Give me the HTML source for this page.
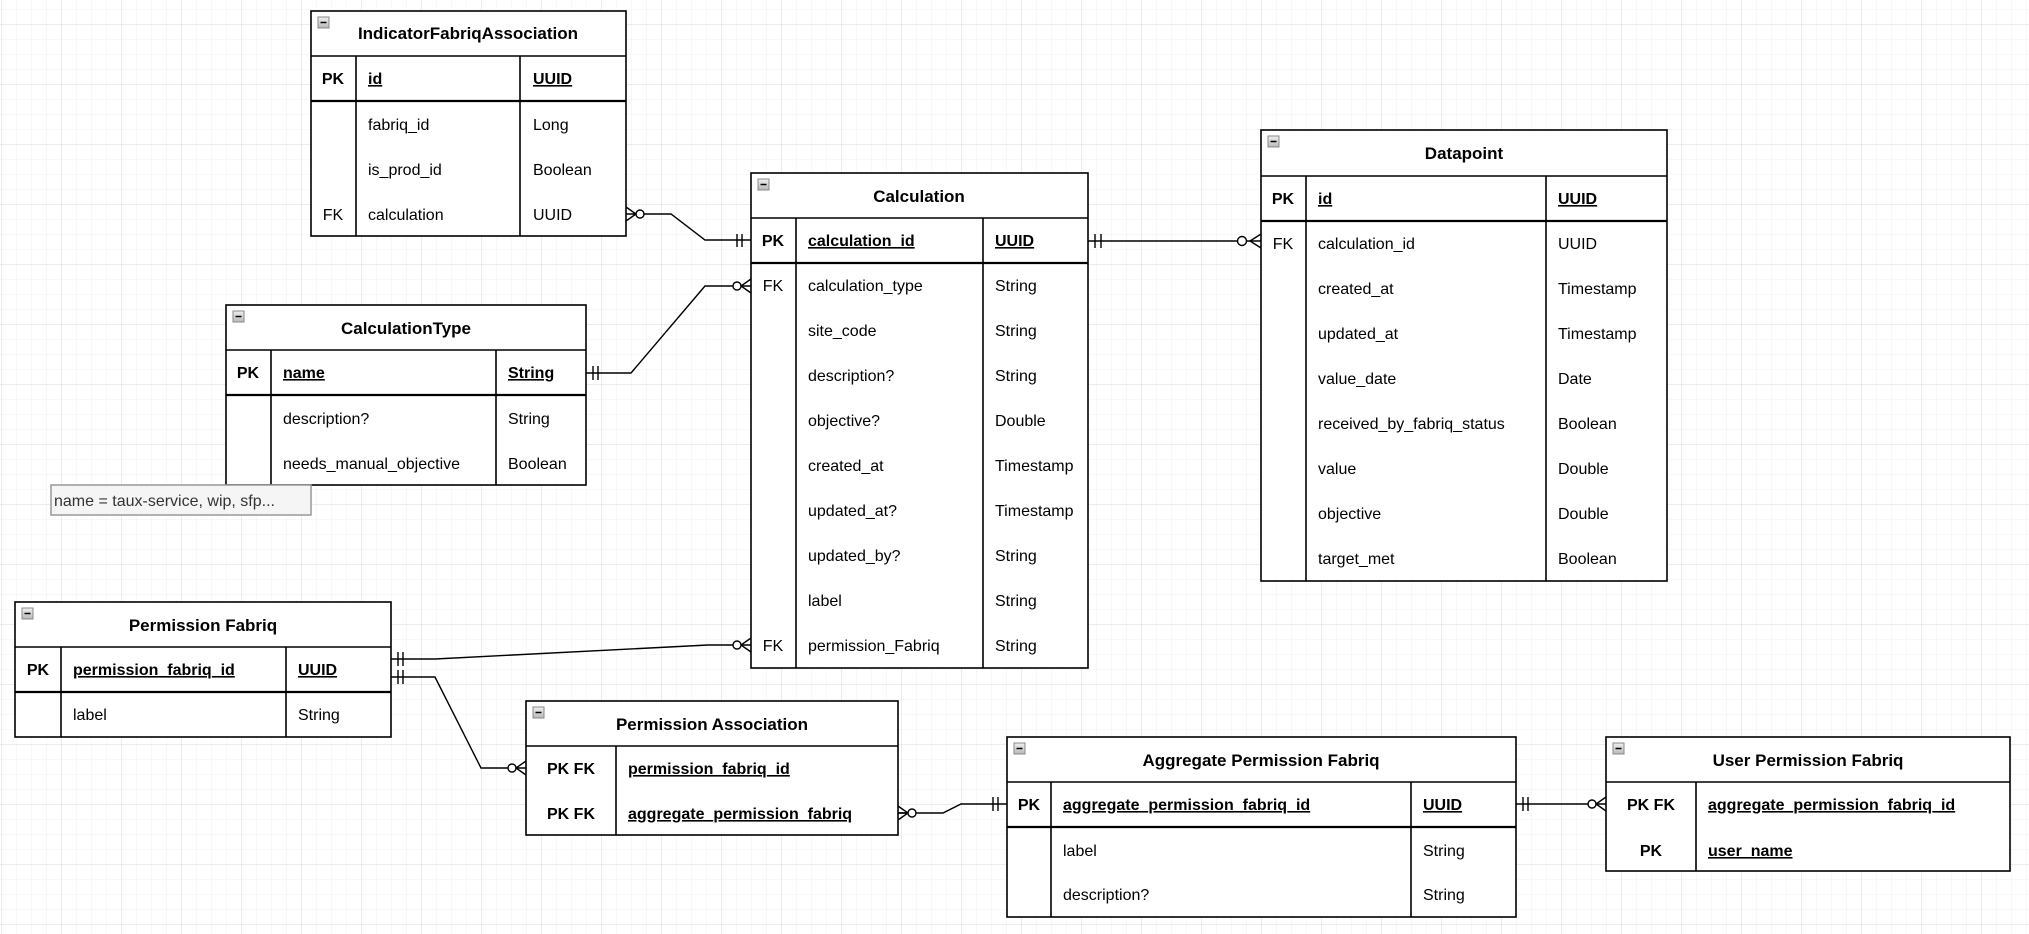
<!DOCTYPE html>
<html><head><meta charset="utf-8"><style>
html,body{margin:0;padding:0;background:#fff;}
svg{display:block;}
text{font-family:"Liberation Sans",Arial,sans-serif;font-size:16px;fill:#000;}
.h{font-weight:bold;font-size:17px;text-anchor:middle;}
.k{font-weight:bold;}
.c{text-anchor:middle;}
.u{text-decoration:underline;font-weight:bold;}
.b{fill:#fff;stroke:#000;stroke-width:1.6;}
.l{stroke:#000;stroke-width:1.6;fill:none;}
.t{stroke:#000;stroke-width:2.2;fill:none;}
.w{stroke:#000;stroke-width:1.4;fill:none;}
.ci{stroke:#000;stroke-width:1.4;fill:#fff;}
</style></head><body>
<svg width="2029" height="934" viewBox="0 0 2029 934" xmlns="http://www.w3.org/2000/svg">
<defs>
<pattern id="mi" width="15" height="15" patternUnits="userSpaceOnUse" x="1" y="9"><path d="M0 0H15M0 0V15" stroke="#f0f0f0" stroke-width="1" fill="none"/></pattern>
<pattern id="ma" width="60" height="60" patternUnits="userSpaceOnUse" x="1" y="24"><path d="M0 0H60M0 0V60" stroke="#dadada" stroke-width="1" fill="none"/></pattern>
<linearGradient id="ig" x1="0" y1="0" x2="0" y2="1"><stop offset="0" stop-color="#f0f0f0"/><stop offset="1" stop-color="#b8b8b8"/></linearGradient>
<g id="mn"><rect x="0" y="0" width="11" height="11" fill="url(#ig)" stroke="#888" stroke-width="1"/><line x1="2.5" y1="5.5" x2="8.5" y2="5.5" stroke="#000" stroke-width="1.5"/></g>
</defs>
<rect width="2029" height="934" fill="#fff"/>
<rect width="2029" height="934" fill="url(#mi)"/>
<rect width="2029" height="934" fill="url(#ma)"/>

<!-- IndicatorFabriqAssociation -->
<rect class="b" x="311" y="11" width="315" height="225"/>
<use href="#mn" x="318" y="17"/>
<text class="h" x="468" y="39">IndicatorFabriqAssociation</text>
<line class="l" x1="311" y1="56" x2="626" y2="56"/>
<line class="t" x1="311" y1="101" x2="626" y2="101"/>
<line class="l" x1="356" y1="56" x2="356" y2="236"/>
<line class="l" x1="520" y1="56" x2="520" y2="236"/>
<text class="k c" x="333" y="84">PK</text><text class="u" x="368" y="84">id</text><text class="u" x="533" y="84">UUID</text>
<text x="368" y="130">fabriq_id</text><text x="533" y="130">Long</text>
<text x="368" y="175">is_prod_id</text><text x="533" y="175">Boolean</text>
<text class="c" x="333" y="220">FK</text><text x="368" y="220">calculation</text><text x="533" y="220">UUID</text>

<!-- Calculation -->
<rect class="b" x="751" y="173" width="337" height="495"/>
<use href="#mn" x="758" y="179"/>
<text class="h" x="919" y="202">Calculation</text>
<line class="l" x1="751" y1="218" x2="1088" y2="218"/>
<line class="t" x1="751" y1="263" x2="1088" y2="263"/>
<line class="l" x1="796" y1="218" x2="796" y2="668"/>
<line class="l" x1="983" y1="218" x2="983" y2="668"/>
<text class="k c" x="773" y="246">PK</text><text class="u" x="808" y="246">calculation_id</text><text class="u" x="995" y="246">UUID</text>
<text class="c" x="773" y="291">FK</text><text x="808" y="291">calculation_type</text><text x="995" y="291">String</text>
<text x="808" y="336">site_code</text><text x="995" y="336">String</text>
<text x="808" y="381">description?</text><text x="995" y="381">String</text>
<text x="808" y="426">objective?</text><text x="995" y="426">Double</text>
<text x="808" y="471">created_at</text><text x="995" y="471">Timestamp</text>
<text x="808" y="516">updated_at?</text><text x="995" y="516">Timestamp</text>
<text x="808" y="561">updated_by?</text><text x="995" y="561">String</text>
<text x="808" y="606">label</text><text x="995" y="606">String</text>
<text class="c" x="773" y="651">FK</text><text x="808" y="651">permission_Fabriq</text><text x="995" y="651">String</text>

<!-- CalculationType -->
<rect class="b" x="226" y="305" width="360" height="180"/>
<use href="#mn" x="233" y="311"/>
<text class="h" x="406" y="334">CalculationType</text>
<line class="l" x1="226" y1="350" x2="586" y2="350"/>
<line class="t" x1="226" y1="395" x2="586" y2="395"/>
<line class="l" x1="271" y1="350" x2="271" y2="485"/>
<line class="l" x1="496" y1="350" x2="496" y2="485"/>
<text class="k c" x="248" y="378">PK</text><text class="u" x="283" y="378">name</text><text class="u" x="508" y="378">String</text>
<text x="283" y="424">description?</text><text x="508" y="424">String</text>
<text x="283" y="469">needs_manual_objective</text><text x="508" y="469">Boolean</text>

<!-- note -->
<rect x="51" y="485" width="260" height="30" fill="#f5f5f5" stroke="#999" stroke-width="1.5"/>
<text x="54" y="506" style="fill:#333">name = taux-service, wip, sfp...</text>

<!-- Permission Fabriq -->
<rect class="b" x="15" y="602" width="376" height="135"/>
<use href="#mn" x="22" y="608"/>
<text class="h" x="203" y="631">Permission Fabriq</text>
<line class="l" x1="15" y1="647" x2="391" y2="647"/>
<line class="t" x1="15" y1="692" x2="391" y2="692"/>
<line class="l" x1="61" y1="647" x2="61" y2="737"/>
<line class="l" x1="286" y1="647" x2="286" y2="737"/>
<text class="k c" x="38" y="675">PK</text><text class="u" x="73" y="675">permission_fabriq_id</text><text class="u" x="298" y="675">UUID</text>
<text x="73" y="720">label</text><text x="298" y="720">String</text>

<!-- Datapoint -->
<rect class="b" x="1261" y="130" width="406" height="451"/>
<use href="#mn" x="1268" y="136"/>
<text class="h" x="1464" y="159">Datapoint</text>
<line class="l" x1="1261" y1="176" x2="1667" y2="176"/>
<line class="t" x1="1261" y1="221" x2="1667" y2="221"/>
<line class="l" x1="1306" y1="176" x2="1306" y2="581"/>
<line class="l" x1="1546" y1="176" x2="1546" y2="581"/>
<text class="k c" x="1283" y="204">PK</text><text class="u" x="1318" y="204">id</text><text class="u" x="1558" y="204">UUID</text>
<text class="c" x="1283" y="249">FK</text><text x="1318" y="249">calculation_id</text><text x="1558" y="249">UUID</text>
<text x="1318" y="294">created_at</text><text x="1558" y="294">Timestamp</text>
<text x="1318" y="339">updated_at</text><text x="1558" y="339">Timestamp</text>
<text x="1318" y="384">value_date</text><text x="1558" y="384">Date</text>
<text x="1318" y="429">received_by_fabriq_status</text><text x="1558" y="429">Boolean</text>
<text x="1318" y="474">value</text><text x="1558" y="474">Double</text>
<text x="1318" y="519">objective</text><text x="1558" y="519">Double</text>
<text x="1318" y="564">target_met</text><text x="1558" y="564">Boolean</text>

<!-- Permission Association -->
<rect class="b" x="526" y="701" width="372" height="134"/>
<use href="#mn" x="533" y="707"/>
<text class="h" x="712" y="730">Permission Association</text>
<line class="l" x1="526" y1="746" x2="898" y2="746"/>
<line class="l" x1="616" y1="746" x2="616" y2="835"/>
<text class="k c" x="571" y="774">PK FK</text><text class="u" x="628" y="774">permission_fabriq_id</text>
<text class="k c" x="571" y="819">PK FK</text><text class="u" x="628" y="819">aggregate_permission_fabriq</text>

<!-- Aggregate Permission Fabriq -->
<rect class="b" x="1007" y="737" width="509" height="180"/>
<use href="#mn" x="1014" y="743"/>
<text class="h" x="1261" y="766">Aggregate Permission Fabriq</text>
<line class="l" x1="1007" y1="782" x2="1516" y2="782"/>
<line class="t" x1="1007" y1="827" x2="1516" y2="827"/>
<line class="l" x1="1051" y1="782" x2="1051" y2="917"/>
<line class="l" x1="1411" y1="782" x2="1411" y2="917"/>
<text class="k c" x="1029" y="810">PK</text><text class="u" x="1063" y="810">aggregate_permission_fabriq_id</text><text class="u" x="1423" y="810">UUID</text>
<text x="1063" y="856">label</text><text x="1423" y="856">String</text>
<text x="1063" y="900">description?</text><text x="1423" y="900">String</text>

<!-- User Permission Fabriq -->
<rect class="b" x="1606" y="737" width="404" height="134"/>
<use href="#mn" x="1613" y="743"/>
<text class="h" x="1808" y="766">User Permission Fabriq</text>
<line class="l" x1="1606" y1="782" x2="2010" y2="782"/>
<line class="l" x1="1696" y1="782" x2="1696" y2="871"/>
<text class="k c" x="1651" y="810">PK FK</text><text class="u" x="1708" y="810">aggregate_permission_fabriq_id</text>
<text class="k c" x="1651" y="856">PK</text><text class="u" x="1708" y="856">user_name</text>

<!-- Connectors -->
<!-- 1: IFA -> Calculation -->
<path class="w" d="M636 214 H671 L705 240 H751"/>
<path class="w" d="M626 207 L636 214 L626 221 M626 214 H636"/>
<circle class="ci" cx="640" cy="214" r="4"/>
<path class="w" d="M737 234 V247 M742 234 V247"/>
<!-- 2: CalcType -> Calculation -->
<path class="w" d="M586 373 H631 L705 286 H751"/>
<path class="w" d="M593 366 V380 M598 366 V380"/>
<path class="w" d="M751 279 L741 286 L751 293"/>
<circle class="ci" cx="737" cy="286" r="4"/>
<!-- 3: Calculation -> Datapoint -->
<path class="w" d="M1088 241 H1261"/>
<path class="w" d="M1095 234 V248 M1101 234 V248"/>
<path class="w" d="M1261 234 L1250 241 L1261 248"/>
<circle class="ci" cx="1242" cy="241" r="4.5"/>
<!-- 4: PF -> Calculation -->
<path class="w" d="M391 659 H435 L708 645 H751"/>
<path class="w" d="M398 652 V666 M403 652 V666"/>
<path class="w" d="M751 638 L741 645 L751 652"/>
<circle class="ci" cx="737" cy="645" r="4"/>
<!-- 5: PF -> PA -->
<path class="w" d="M391 677 H435 L481 768 H526"/>
<path class="w" d="M398 670 V684 M403 670 V684"/>
<path class="w" d="M526 761 L516 768 L526 775"/>
<circle class="ci" cx="512" cy="768" r="4"/>
<!-- 6: PA -> APF -->
<path class="w" d="M898 813 H943 L961 804 H1007"/>
<path class="w" d="M898 806 L908 813 L898 820 M898 813 H908"/>
<circle class="ci" cx="912" cy="813" r="4"/>
<path class="w" d="M993 797 V811 M998 797 V811"/>
<!-- 7: APF -> UPF -->
<path class="w" d="M1516 804 H1606"/>
<path class="w" d="M1523 797 V811 M1528 797 V811"/>
<path class="w" d="M1606 797 L1596 804 L1606 811"/>
<circle class="ci" cx="1592" cy="804" r="4"/>
</svg>
</body></html>
